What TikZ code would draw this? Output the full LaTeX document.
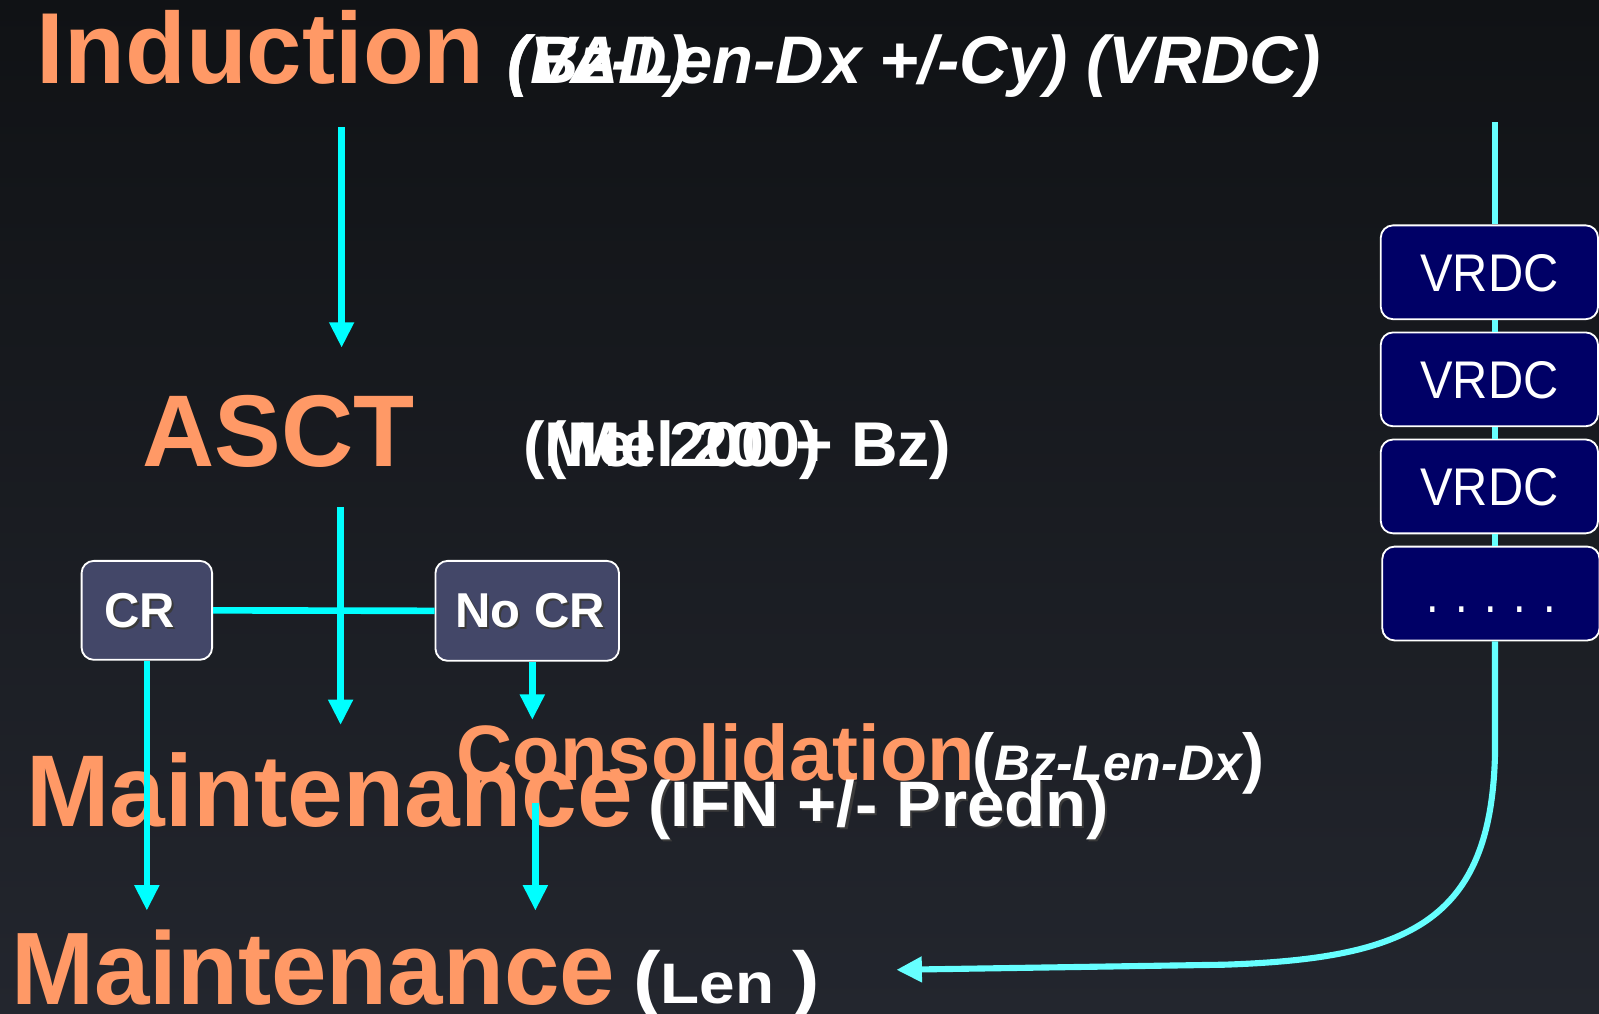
\documentclass[tikz,border=0pt]{standalone}
\usepackage{fontspec}
\usepackage{graphicx}
\setmainfont{Liberation Sans}
\usetikzlibrary{arrows.meta}
\definecolor{orng}{HTML}{FF9966}
\definecolor{cyn}{HTML}{00FFFF}
\definecolor{cynlt}{HTML}{66FFFF}
\definecolor{bgtop}{HTML}{101215}
\definecolor{bgbot}{HTML}{23262E}
\definecolor{crfill}{HTML}{434768}
\definecolor{navyb}{HTML}{000066}
\definecolor{shadowc}{HTML}{3A3A3A}
\newcommand\fsz[1]{\fontsize{#1}{#1}\selectfont}
\newcommand\shd[1]{\rlap{\kern2pt\raisebox{-2pt}{\textcolor{shadowc}{#1}}}#1}
\begin{document}
\begin{tikzpicture}[x=1pt,y=-1pt,
  txt/.style={anchor=base west, inner sep=0pt, outer sep=0pt, transform shape},
  org/.style={txt, text=orng},
  wht/.style={txt, text=white},
  arr/.style={draw=cyn, line width=6.5pt, -{Triangle[width=23pt,length=25pt]}},
  plainline/.style={draw=cyn, line width=6.5pt},
  rline/.style={draw=cynlt, line width=6pt},
  rarr/.style={draw=cynlt, line width=6pt, -{Triangle[width=24pt,length=25pt]}},
  crbox/.style={draw=white, line width=1.8pt, fill=crfill, rounded corners=12pt, font=\bfseries\fsz{48}, inner sep=0pt},
  crtext/.style={text=white, font=\bfseries\fsz{48}, inner sep=0pt},
  vbox/.style={draw=white, line width=1.8pt, fill=navyb, rounded corners=12pt, text=white, font=\fsz{52}, minimum width=213pt, minimum height=92pt, inner sep=0pt, text height=37.2pt, text depth=0pt}
]
\shade[top color=bgtop, bottom color=bgbot] (0,0) rectangle (1568,994);
\useasboundingbox (0,0) rectangle (1568,994);

% texts
\node[org, font=\bfseries\fsz{99}, xscale=0.986] (ind) at (36,82) {Induction};
\node[wht, font=\bfseries\itshape\fsz{66}] (vad) at (498,82) {(VAD)};
\node[wht, font=\bfseries\itshape\fsz{66}, xscale=0.995] (bz) at (498,82) {(Bz-Len-Dx +/-Cy) (VRDC)};

\node[org, font=\bfseries\fsz{100}, xscale=0.98] (asct) at (140,457) {ASCT};
\node[wht, font=\bfseries\fsz{62}, xscale=1.02] (mel1) at (535,457) {(Mel 200)};
\node[wht, font=\bfseries\fsz{62}, xscale=1.02] (mel2) at (513,457) {(Mel 200 + Bz)};

\node[org, font=\bfseries\fsz{100}, xscale=0.982] (m1) at (26,810) {Maintenance};
\node[org, font=\bfseries\fsz{77}, xscale=0.99] (cons) at (448,765) {Consolidation};
\node[wht, font=\bfseries\fsz{65}] (consd) at (954,765) {(\fsz{49}\itshape Bz-Len-Dx\fsz{65}\upshape)};
\node[wht, font=\bfseries\fsz{63}, xscale=1.045] (ifn) at (636,810) {\shd{(IFN +/- Predn)}};

\node[org, font=\bfseries\fsz{101}, xscale=0.968] (m2) at (11,985) {Maintenance};
\node[wht, font=\bfseries\fsz{72}, xscale=1.12] (len) at (621,984) {(\fsz{56}Len \fsz{72})};

% boxes
\node[crbox, minimum width=128pt, minimum height=97pt] (cr) at (144,598.5) {};
\node[crtext] (crt) at (137,600) {\shd{CR}};
\node[crbox, minimum width=180pt, minimum height=98pt] (nocr) at (517,599) {};
\node[crtext] (nocrt) at (520,600) {\shd{No CR}};

\coordinate (rtop) at (1466,120);
\node[vbox] (v1) at (1460.5,267) {\scalebox{0.92}[1]{VRDC}};
\node[vbox] (v2) at (1460.5,372) {\scalebox{0.92}[1]{VRDC}};
\node[vbox] (v3) at (1460.5,477) {\scalebox{0.92}[1]{VRDC}};
\node[vbox] (v4) at (1462,582) {\scalebox{0.85}[1]{. . . . .}};

% left connectors
\coordinate (a1s) at (335,125);
\coordinate (a1e) at (335,341);
\coordinate (a2s) at (334,497);
\coordinate (a2e) at (334,711);
\coordinate (a3e) at (144,893);
\coordinate (a4e) at (522,706);
\coordinate (a5s) at (525,787);
\coordinate (a5e) at (525,893);
\coordinate (lenarr) at (879,951);

\draw[arr] (a1s) -- (a1e);
\draw[plainline] (cr.east) -- (nocr.west);
\draw[arr] (a2s) -- (a2e);
\draw[arr] (cr.south) -- (a3e);
\draw[arr] (nocr.south -| a4e) -- (a4e);
\draw[arr] (a5s) -- (a5e);

% right connectors
\draw[rline] (rtop) -- (rtop |- v1.north);
\draw[rline] (rtop |- v1.south) -- (rtop |- v2.north);
\draw[rline] (rtop |- v2.south) -- (rtop |- v3.north);
\draw[rline] (rtop |- v3.south) -- (rtop |- v4.north);
\draw[rarr] (rtop |- v4.south) -- (1466,740) .. controls (1462,905) and (1380,940) .. (1200,946) -- (lenarr);
\end{tikzpicture}
\end{document}
